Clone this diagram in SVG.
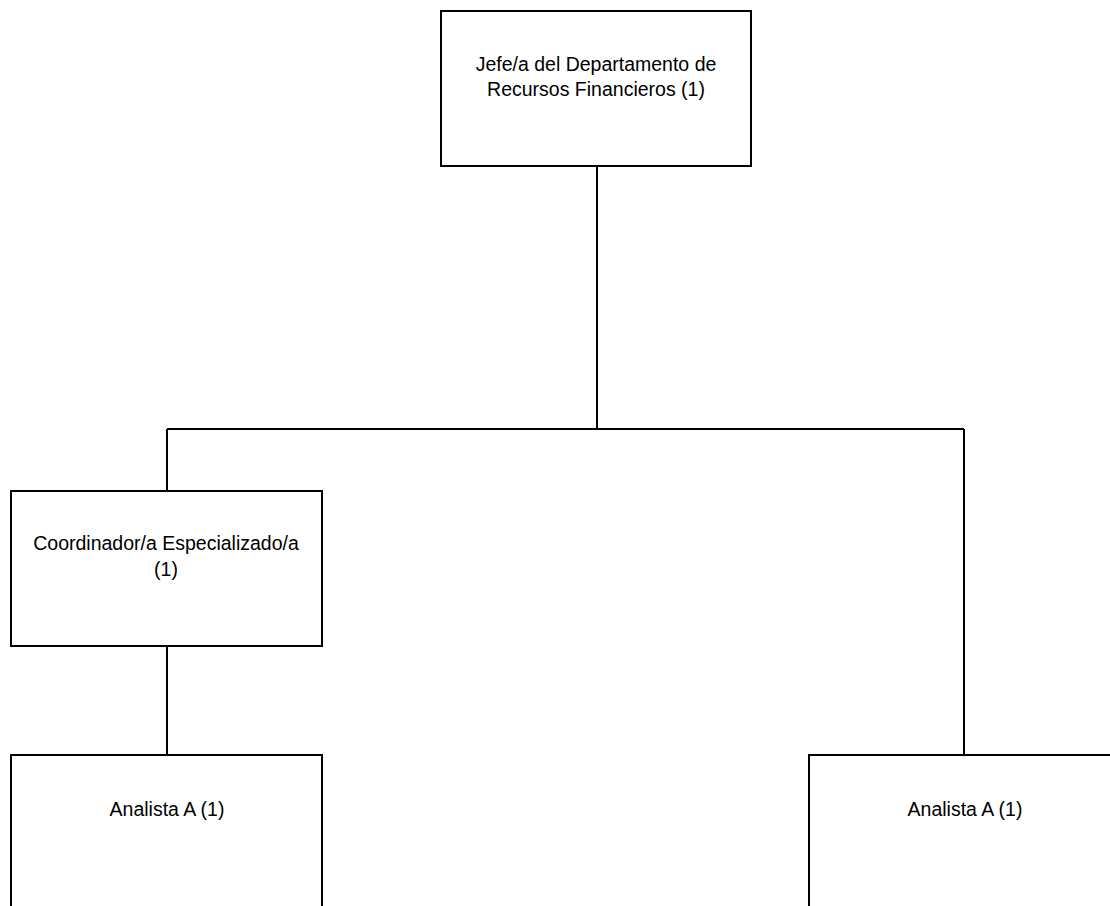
<svg xmlns="http://www.w3.org/2000/svg" width="1110" height="906" viewBox="0 0 1110 906">
<style>
.box{fill:#fff;stroke:#000;stroke-width:2}
.conn{fill:none;stroke:#000;stroke-width:2}
.lbl{font-family:"Liberation Sans",Arial,sans-serif;font-size:19.5px;fill:#000;text-anchor:middle}
</style>
<rect x="0" y="0" width="1110" height="906" fill="#fff"/>
<g id="connectors">
<path class="conn" d="M597 166 V429"/>
<path class="conn" d="M167 429 H964"/>
<path class="conn" d="M167 429 V491"/>
<path class="conn" d="M964 429 V755"/>
<path class="conn" d="M167 646 V755"/>
</g>
<g id="jefe">
<rect class="box" x="441" y="11" width="310" height="155"/>
<text class="lbl" x="596" y="71">Jefe/a del Departamento de</text>
<text class="lbl" x="596" y="96">Recursos Financieros (1)</text>
</g>
<g id="coordinador">
<rect class="box" x="11" y="491" width="311" height="155"/>
<text class="lbl" x="166" y="550">Coordinador/a Especializado/a</text>
<text class="lbl" x="166" y="576">(1)</text>
</g>
<g id="analista1">
<rect class="box" x="11" y="755" width="311" height="200"/>
<text class="lbl" x="167" y="816">Analista A (1)</text>
</g>
<g id="analista2">
<rect class="box" x="809" y="755" width="320" height="200"/>
<text class="lbl" x="965" y="816">Analista A (1)</text>
</g>
</svg>
